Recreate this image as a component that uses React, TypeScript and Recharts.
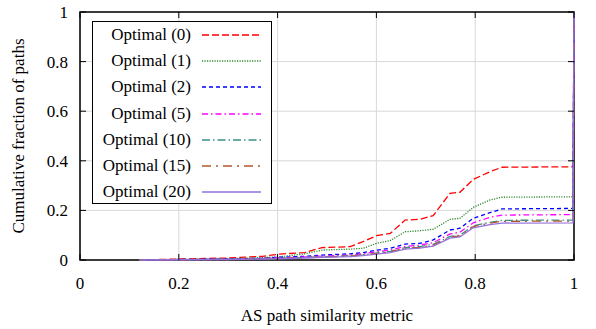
import React from "react"
import {
  LineChart,
  Line,
  XAxis,
  YAxis,
  CartesianGrid,
  ReferenceArea,
} from "recharts"

const FONT = "Liberation Serif, Times New Roman, Tinos, DejaVu Serif, serif"

const xs = [0.12, 0.2, 0.3, 0.37, 0.405, 0.455, 0.49, 0.547, 0.573, 0.6, 0.628, 0.658, 0.688, 0.715, 0.749, 0.769, 0.796, 0.83, 0.854, 0.998, 1]

const opt0 = [0, 0.004, 0.008, 0.015, 0.024, 0.03, 0.05, 0.054, 0.074, 0.098, 0.107, 0.161, 0.164, 0.179, 0.269, 0.273, 0.325, 0.356, 0.374, 0.376, 1]
const opt1 = [0, 0.002, 0.005, 0.01, 0.013, 0.025, 0.04, 0.044, 0.047, 0.067, 0.078, 0.114, 0.118, 0.124, 0.164, 0.168, 0.212, 0.242, 0.253, 0.255, 1]
const opt2 = [0, 0.002, 0.004, 0.007, 0.011, 0.015, 0.02, 0.025, 0.03, 0.04, 0.047, 0.064, 0.067, 0.081, 0.121, 0.128, 0.168, 0.191, 0.206, 0.208, 1]
const opt5 = [0, 0.001, 0.003, 0.006, 0.009, 0.012, 0.016, 0.02, 0.025, 0.033, 0.04, 0.055, 0.06, 0.07, 0.105, 0.112, 0.15, 0.172, 0.181, 0.183, 1]
const opt10 = [0, 0.001, 0.003, 0.005, 0.007, 0.01, 0.013, 0.017, 0.021, 0.028, 0.035, 0.05, 0.054, 0.063, 0.095, 0.1, 0.138, 0.152, 0.16, 0.161, 1]
const opt15 = [0, 0.001, 0.002, 0.004, 0.006, 0.009, 0.012, 0.016, 0.02, 0.026, 0.033, 0.047, 0.051, 0.06, 0.092, 0.097, 0.135, 0.149, 0.156, 0.157, 1]
const opt20 = [0, 0.001, 0.002, 0.004, 0.005, 0.008, 0.011, 0.014, 0.018, 0.024, 0.03, 0.044, 0.048, 0.056, 0.088, 0.093, 0.13, 0.143, 0.149, 0.15, 1]

const xTicks = [0, 0.2, 0.4, 0.6, 0.8, 1]
const yTicks = [0, 0.2, 0.4, 0.6, 0.8, 1]

const series = [
  { key: "o0", name: "Optimal (0)", values: opt0, color: "#ff0000", dash: "7 3" },
  { key: "o1", name: "Optimal (1)", values: opt1, color: "#2e8b2e", dash: "1.2 1.3" },
  { key: "o2", name: "Optimal (2)", values: opt2, color: "#0000ff", dash: "4 3" },
  { key: "o5", name: "Optimal (5)", values: opt5, color: "#ff00ff", dash: "6 3 1.5 3" },
  { key: "o10", name: "Optimal (10)", values: opt10, color: "#3d8f86", dash: "8 3 1.5 3" },
  { key: "o15", name: "Optimal (15)", values: opt15, color: "#b0582c", dash: "9 5 2 5" },
  { key: "o20", name: "Optimal (20)", values: opt20, color: "#9370db", dash: undefined },
]

const data = xs.map((x, i) => {
  const row: Record<string, number> = { x }
  series.forEach((s) => (row[s.key] = s.values[i]))
  return row
})

const W = 596
const H = 329
const M = { top: 12, right: 22, bottom: 0, left: 0 }
const X_AXIS_H = 69
const PLOT_LEFT = 80
const PLOT_TOP = M.top
const PLOT_BOTTOM = H - X_AXIS_H
const PLOT_RIGHT = W - M.right

const XTick = (props: any) => {
  const { x, payload } = props
  return (
    <g>
      <line x1={x} x2={x} y1={PLOT_BOTTOM} y2={PLOT_BOTTOM - 6} stroke="#000" />
      <line x1={x} x2={x} y1={PLOT_TOP} y2={PLOT_TOP + 6} stroke="#000" />
      <text x={x} y={PLOT_BOTTOM + 29} textAnchor="middle" style={{ fontFamily: FONT }} fontSize={17} fill="#000">
        {payload.value}
      </text>
    </g>
  )
}

const YTick = (props: any) => {
  const { y, payload } = props
  return (
    <g>
      <line x1={PLOT_LEFT} x2={PLOT_LEFT + 6} y1={y} y2={y} stroke="#000" />
      <line x1={PLOT_RIGHT} x2={PLOT_RIGHT - 6} y1={y} y2={y} stroke="#000" />
      <text x={PLOT_LEFT - 12} y={y + 6} textAnchor="end" style={{ fontFamily: FONT }} fontSize={17} fill="#000">
        {payload.value}
      </text>
    </g>
  )
}

const LegendBox = () => (
  <div
    style={{
      position: "absolute",
      left: 92,
      top: 21,
      width: 178,
      height: 181,
      border: "1px solid #000",
      background: "#fff",
      fontFamily: FONT,
      fontSize: 17,
      color: "#000",
    }}
  >
    {series.map((s) => (
      <div key={s.key} style={{ display: "flex", alignItems: "center", height: 26.2 }}>
        <span style={{ width: 98, textAlign: "right", display: "inline-block", whiteSpace: "nowrap" }}>{s.name}</span>
        <svg width={70} height={10} style={{ marginLeft: 10 }}>
          <line x1={1} x2={60} y1={5} y2={5} stroke={s.color} strokeWidth={1.3} strokeDasharray={s.dash} />
        </svg>
      </div>
    ))}
  </div>
)

export default function App() {
  return (
    <div style={{ position: "absolute", left: 0, top: 0, width: W, height: H, background: "#fff", fontFamily: FONT }}>
      <LineChart width={W} height={H} data={data} margin={M}>
        <CartesianGrid stroke="#d8d8d8" strokeWidth={1} />
        <XAxis
          dataKey="x"
          type="number"
          domain={[0, 1]}
          ticks={xTicks}
          tickLine={false}
          axisLine={false}
          tick={<XTick />}
          label={{ value: "AS path similarity metric", position: "insideBottom", offset: 8, fontSize: 17, fill: "#000", style: { fontFamily: FONT } }}
          height={X_AXIS_H}
        />
        <YAxis
          type="number"
          domain={[0, 1]}
          ticks={yTicks}
          width={80}
          tickLine={false}
          axisLine={false}
          tick={<YTick />}
          label={{ value: "Cumulative fraction of paths", angle: -90, position: "insideLeft", offset: 18, fontSize: 17, fill: "#000", style: { textAnchor: "middle", fontFamily: FONT } }}
        />
        <ReferenceArea x1={0} x2={1} y1={0} y2={1} fill="none" stroke="#000" strokeWidth={1.5} fillOpacity={0} />
        {series.map((s) => (
          <Line
            key={s.key}
            dataKey={s.key}
            name={s.name}
            type="linear"
            stroke={s.color}
            strokeWidth={1.3}
            strokeDasharray={s.dash}
            dot={false}
            isAnimationActive={false}
          />
        ))}
      </LineChart>
      <LegendBox />
    </div>
  )
}
